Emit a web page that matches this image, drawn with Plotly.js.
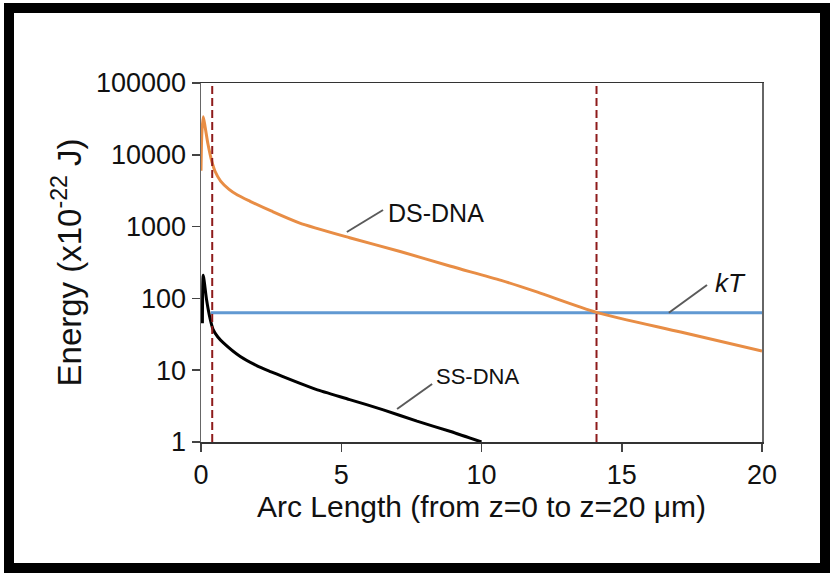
<!DOCTYPE html>
<html>
<head>
<meta charset="utf-8">
<script src="https://cdn.plot.ly/plotly-3.0.1.min.js"></script>
<style>
  html, body { margin: 0; padding: 0; background: #fff; }
  #wrap { position: relative; width: 833px; height: 575px; }
  #chart { position: absolute; left: 0; top: 0; width: 833px; height: 575px; }
  #frame { position: absolute; left: 4px; top: 3px; width: 826px; height: 570px;
           box-sizing: border-box; border: 10px solid #000; pointer-events: none; }
</style>
</head>
<body>
<div id="wrap">
  <div id="chart"></div>
  <div id="frame"></div>
</div>
<script>
// ---- data ----
const dsX = [0, 0.03, 0.08, 0.15, 0.25, 0.4, 0.5, 0.7, 1.0, 1.3, 1.75, 2.5, 3.5, 5.3, 7.1, 8.9, 10.7, 12.0, 14.1, 17.1, 20];
const dsY = [6000, 20000, 34000, 24000, 14000, 7700, 5900, 4300, 3300, 2750, 2250, 1650, 1130, 700, 450, 280, 178, 122, 64, 34, 18.5];

const ssX = [0.05, 0.08, 0.2, 0.32, 0.43, 0.6, 0.8, 1.4, 2.0, 2.5, 2.9, 4.1, 5.3, 6.5, 7.7, 8.9, 10];
const ssY = [45, 210, 95, 53, 37, 29, 24, 15.5, 11.5, 9.5, 8.2, 5.4, 3.9, 2.8, 1.95, 1.4, 1.0];

const ktX = [0.35, 20];
const ktY = [63, 63];

const markerX = [0.4, 14.1];

const yTickVals = [1, 10, 100, 1000, 10000, 100000];
const yTickText = ['1', '10', '100', '1000', '10000', '100000'];
const xTickVals = [0, 5, 10, 15, 20];

const seriesNames = ['DS-DNA', 'SS-DNA', 'kT'];

// ---- traces ----
const traces = [
  { x: ktX, y: ktY, mode: 'lines', name: seriesNames[2],
    line: { color: '#6199D2', width: 3 } },
  { x: dsX, y: dsY, mode: 'lines', name: seriesNames[0],
    line: { color: '#E88D45', width: 3, shape: 'spline', smoothing: 0.7 } },
  { x: ssX, y: ssY, mode: 'lines', name: seriesNames[1],
    line: { color: '#000000', width: 3, shape: 'spline', smoothing: 0.6 } }
];

const shapes = markerX.map(v => ({
  type: 'line', xref: 'x', yref: 'paper', x0: v, x1: v, y0: 0, y1: 1,
  line: { color: '#8E1B1B', width: 2, dash: '8px,4px' }
}));

// leader lines
const leader = { color: '#5a5a5a', width: 2 };
shapes.push({ type: 'line', xref: 'x', yref: 'y', x0: 5.2, y0: 841, x1: 6.49, y1: 1702, line: leader });
shapes.push({ type: 'line', xref: 'x', yref: 'y', x0: 6.99, y0: 2.88, x1: 8.24, y1: 6.43, line: leader });
shapes.push({ type: 'line', xref: 'x', yref: 'y', x0: 16.68, y0: 63, x1: 18.04, y1: 154, line: leader });

const font = 'Liberation Sans, Arial, sans-serif';

const annotations = [
  { x: 6.6, y: 3.19, xref: 'x', yref: 'y', text: seriesNames[0], showarrow: false,
    xanchor: 'left', yanchor: 'middle', font: { family: font, size: 25, color: '#111' } },
  { x: 8.31, y: 0.919, xref: 'x', yref: 'y', text: seriesNames[1], showarrow: false,
    xanchor: 'left', yanchor: 'middle', font: { family: font, size: 22, color: '#111' } },
  { x: 18.25, y: 2.214, xref: 'x', yref: 'y', text: '<i>' + seriesNames[2] + '</i>', showarrow: false,
    xanchor: 'left', yanchor: 'middle', font: { family: font, size: 26, color: '#111' } }
];

const layout = {
  width: 833, height: 575,
  margin: { l: 201, r: 71, t: 83, b: 133 },
  paper_bgcolor: '#ffffff', plot_bgcolor: '#ffffff',
  showlegend: false,
  font: { family: font, color: '#111' },
  xaxis: {
    range: [0, 20], tickvals: xTickVals, ticks: 'outside', ticklen: 8, tickwidth: 1.5,
    tickcolor: '#444', showgrid: false, zeroline: false, showline: true, linecolor: '#333',
    linewidth: 1.5, mirror: true, ticklabelstandoff: 0,
    tickfont: { family: font, size: 27, color: '#111' },
    title: { text: 'Arc Length (from z=0 to z=20 μm)', font: { family: font, size: 30, color: '#111' }, standoff: 4 }
  },
  yaxis: {
    type: 'log', range: [0, 5], tickvals: yTickVals, ticktext: yTickText,
    ticks: 'outside', ticklen: 8, tickwidth: 1.5, tickcolor: '#444',
    showgrid: false, zeroline: false, showline: true, linecolor: '#666', linewidth: 1.5, mirror: true,
    tickfont: { family: font, size: 27, color: '#111' },
    title: { text: 'Energy (x10<sup>-22</sup> J)', font: { family: font, size: 33, color: '#111' }, standoff: 4 }
  },
  shapes: shapes,
  annotations: annotations
};

Plotly.newPlot('chart', traces, layout, { displayModeBar: false, staticPlot: true });
</script>
</body>
</html>
